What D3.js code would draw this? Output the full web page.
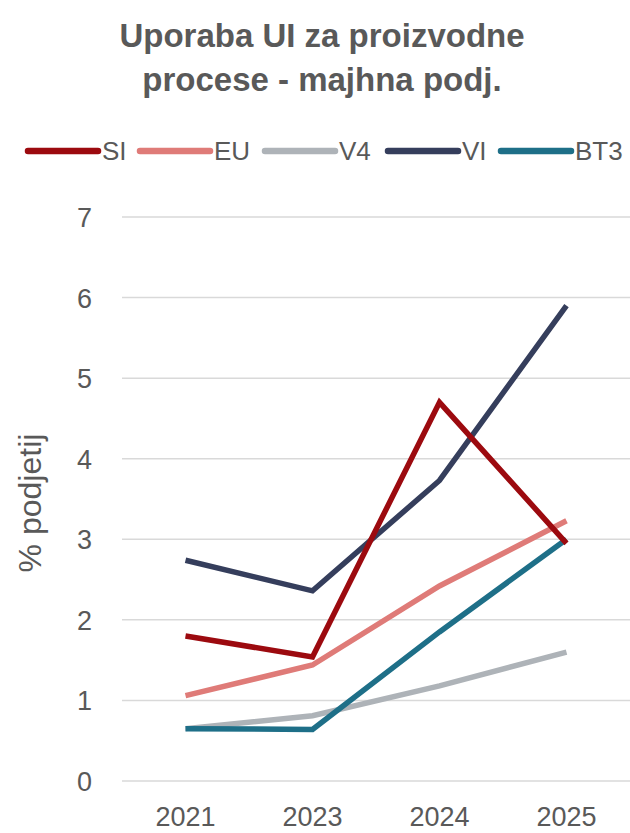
<!DOCTYPE html>
<html><head><meta charset="utf-8">
<script src="https://cdn.jsdelivr.net/npm/d3@7"></script>
<style>body{margin:0;background:#fff}svg{display:block}</style>
</head><body>
<script>
const years = ["2021","2023","2024","2025"];
const seriesNames = ["SI","EU","V4","VI","BT3"];
const SI  = [1.80, 1.54, 4.70, 2.95];
const EU  = [1.06, 1.44, 2.42, 3.23];
const V4  = [0.65, 0.81, 1.18, 1.60];
const VI  = [2.74, 2.36, 3.73, 5.90];
const BT3 = [0.65, 0.64, 1.85, 3.00];
const yTicks = [0,1,2,3,4,5,6,7];
const colors = {SI:"#9c0a0f", EU:"#df7b78", V4:"#aeb3b8", VI:"#353e5c", BT3:"#1e6f88"};
const data = {SI, EU, V4, VI, BT3};
const drawOrder = ["V4","EU","BT3","VI","SI"];

const W=630,H=833;
const svg=d3.select("body").append("svg").attr("width",W).attr("height",H);
const font="'Liberation Sans', Arial, sans-serif";
const grey="#595959";

svg.append("text").attr("x",322).attr("y",47).attr("text-anchor","middle")
  .attr("font-family",font).attr("font-weight","bold").attr("font-size",33).attr("fill",grey)
  .text("Uporaba UI za proizvodne");
svg.append("text").attr("x",322).attr("y",91).attr("text-anchor","middle")
  .attr("font-family",font).attr("font-weight","bold").attr("font-size",33).attr("fill",grey)
  .text("procese - majhna podj.");

const x=d3.scaleBand().domain(years).range([122,630]);
const y=d3.scaleLinear().domain([0,7]).range([781,217]);

svg.append("g").selectAll("line").data(yTicks).join("line")
  .attr("x1",122).attr("x2",630).attr("y1",d=>y(d)).attr("y2",d=>y(d))
  .attr("stroke","#d9d9d9").attr("stroke-width",1.5);

const yAxis=svg.append("g").attr("transform","translate(122,0)")
  .call(d3.axisLeft(y).tickValues(yTicks).tickFormat(d3.format("d")).tickSize(0).tickPadding(30));
yAxis.select(".domain").remove();
yAxis.selectAll("text").attr("font-family",font).attr("font-size",27).attr("fill",grey).attr("dy","0.35em");

const xAxis=svg.append("g").attr("transform","translate(0,781)")
  .call(d3.axisBottom(x).tickSize(0).tickPadding(26));
xAxis.select(".domain").remove();
xAxis.selectAll("text").attr("font-family",font).attr("font-size",27).attr("fill",grey);

svg.append("text").attr("transform","translate(41,503) rotate(-90)").attr("text-anchor","middle")
  .attr("font-family",font).attr("font-size",32).attr("fill",grey).text("% podjetij");

const line=d3.line().x((d,i)=>x(years[i])+x.bandwidth()/2).y(d=>y(d));
svg.append("g").selectAll("path").data(drawOrder).join("path")
  .attr("d",k=>line(data[k])).attr("fill","none").attr("stroke",k=>colors[k])
  .attr("stroke-width",5.5).attr("stroke-linejoin","miter").attr("stroke-linecap","butt");

const legX=[28,140,265,388,501];
const lg=svg.append("g").selectAll("g").data(seriesNames).join("g")
  .attr("transform",(d,i)=>`translate(${legX[i]},151)`);
lg.append("line").attr("x1",0).attr("x2",70).attr("stroke",d=>colors[d]).attr("stroke-width",6.5).attr("stroke-linecap","round");
lg.append("text").attr("x",74).attr("dy","0.35em").attr("font-family",font).attr("font-size",26).attr("fill",grey).text(d=>d);
</script>
</body></html>
